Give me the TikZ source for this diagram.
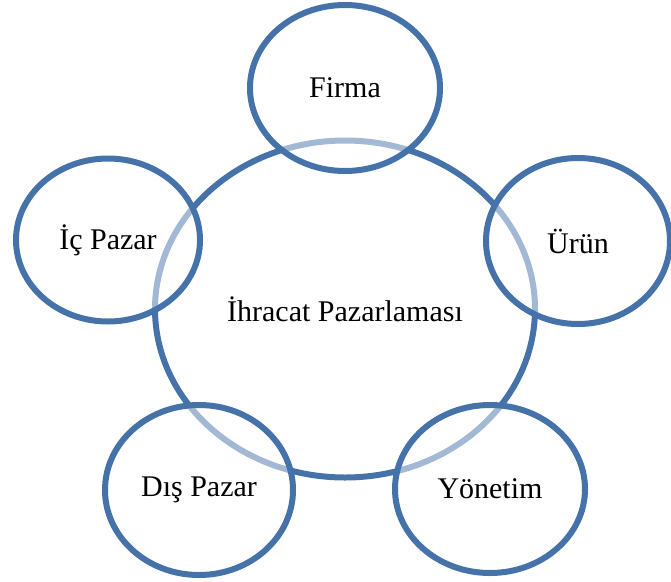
\documentclass[tikz,border=0pt]{standalone}
\usepackage{fontspec}
\setmainfont{Liberation Serif}
\usetikzlibrary{shapes.geometric}
\definecolor{ringblue}{RGB}{70,114,170}
\tikzset{% circle styles
    ring/.style={ellipse, draw=ringblue, line width=6pt, inner sep=0pt, font=\fontsize{30}{36}\selectfont},
    hub/.style={ring, minimum width=380pt, minimum height=337pt},
    satellite/.style={ring, fill=white, fill opacity=0.5, text opacity=1}
}

\begin{document}
\begin{tikzpicture}[x=1pt,y=-1pt]
    		\newcommand{\satw}{190pt}
    		\newcommand{\sath}{166pt}
    		\useasboundingbox (0,0) rectangle (671,581);
    	
    		% central circle
    		\node[hub] (ihracat) at (345,309) {İhracat Pazarlaması};
    	
    		% outer circles
    		\node[satellite, minimum width=\satw, minimum height=\sath] (firma) at (345,88) {Firma};
    		\node[satellite, minimum width=184pt, minimum height=\sath] (urun) at (578,241) {Ürün};
    		\node[satellite, minimum width=184pt, minimum height=163pt] (icpazar) at (108,240) {İç Pazar};
    		\node[satellite, minimum width=188pt, minimum height=170pt] (dispazar) at (199,490) {Dış Pazar};
    		\node[satellite, minimum width=\satw, minimum height=168pt] (yonetim) at (490,489) {Yönetim};
    		
\end{tikzpicture}
\end{document}
